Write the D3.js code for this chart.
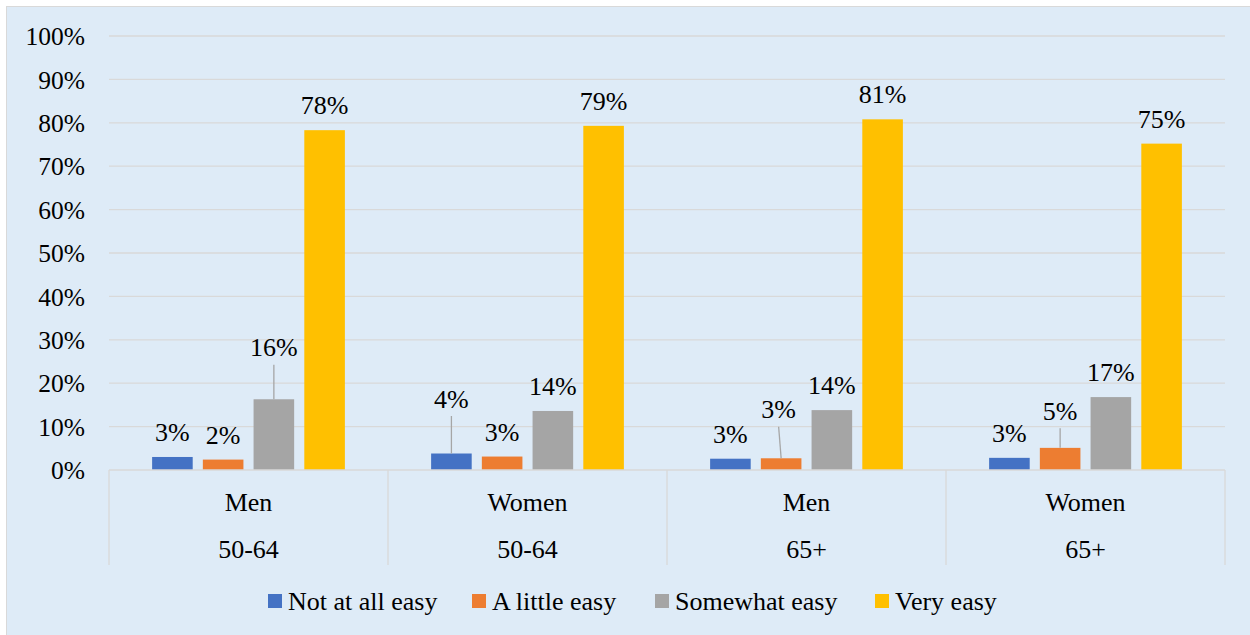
<!DOCTYPE html>
<html>
<head>
<meta charset="utf-8">
<script src="https://cdn.jsdelivr.net/npm/d3@7"></script>
<style>
  html, body { margin: 0; padding: 0; background: #ffffff; }
  svg { display: block; }
  svg text { font-family: "Liberation Serif", "Times New Roman", Times, "DejaVu Serif", serif !important; fill: #000; }
</style>
</head>
<body>
<svg id="chart" width="1250" height="635"></svg>
<script>
// Ease ratings by gender and age group
const genders = ["Men", "Women", "Men", "Women"];
const ageGroups = ["50-64", "50-64", "65+", "65+"];
const seriesNames = ["Not at all easy", "A little easy", "Somewhat easy", "Very easy"];
const seriesColors = ["#4472C4", "#ED7D31", "#A5A5A5", "#FFC000"];

// Share of respondents, one array per answer, in category order
const notAtAllEasy = [0.030, 0.038, 0.026, 0.028];
const aLittleEasy  = [0.024, 0.031, 0.027, 0.051];
const somewhatEasy = [0.163, 0.136, 0.138, 0.168];
const veryEasy     = [0.783, 0.793, 0.808, 0.752];

const yTicks = [0, 0.1, 0.2, 0.3, 0.4, 0.5, 0.6, 0.7, 0.8, 0.9, 1.0];

// Labels that were lifted above their bars and joined with a leader line:
// [category index, series index, extra lift in px, horizontal shift in px]
const liftedLabels = [
  [0, 2, 27, 0],
  [1, 0, 30, 0],
  [2, 1, 24, -2.5],
  [3, 1, 12, 0]
];

const seriesValues = [notAtAllEasy, aLittleEasy, somewhatEasy, veryEasy];
const categories = genders.map((g, i) => i);
const serif = "'Liberation Serif', 'Times New Roman', Times, 'DejaVu Serif', serif";

const svg = d3.select("#chart");
const W = 1250, H = 635;

// Chart area
svg.append("rect")
  .attr("x", 6.5).attr("y", 6.5)
  .attr("width", W).attr("height", H)
  .attr("fill", "#DEEBF7")
  .attr("stroke", "#D9D9D9").attr("stroke-width", 1);

const plot = { left: 109, right: 1225, top: 36, bottom: 470 };

const y = d3.scaleLinear().domain([0, 1]).range([plot.bottom, plot.top]);
const x0 = d3.scaleBand().domain(categories).range([plot.left, plot.right]).padding(0);
const x1 = d3.scaleBand().domain(d3.range(seriesNames.length))
  .range([0, x0.bandwidth()]).paddingInner(0.2).paddingOuter(0.85);

// Gridlines
svg.append("g").selectAll("line")
  .data(yTicks.filter(t => t > 0))
  .join("line")
  .attr("x1", plot.left).attr("x2", plot.right)
  .attr("y1", d => y(d)).attr("y2", d => y(d))
  .attr("stroke", "#D9D9D9").attr("stroke-width", 1.3);

// Value axis labels
const yAxis = d3.axisLeft(y).tickValues(yTicks).tickFormat(d3.format(".0%")).tickSize(0).tickPadding(24);
const yg = svg.append("g").attr("transform", `translate(${plot.left},0)`).call(yAxis);
yg.attr("font-family", serif).attr("font-size", 25.5);
yg.select(".domain").remove();
yg.selectAll("text")
  .style("font-family", serif)
  .style("font-size", "25.5px").attr("fill", "#000").attr("dy", "0.34em");

// Bars
const bars = [];
categories.forEach(c => {
  seriesValues.forEach((vals, s) => bars.push({ c, s, v: vals[c] }));
});

svg.append("g").selectAll("rect")
  .data(bars)
  .join("rect")
  .attr("x", d => x0(d.c) + x1(d.s))
  .attr("y", d => y(d.v))
  .attr("width", x1.bandwidth())
  .attr("height", d => y(0) - y(d.v))
  .attr("fill", d => seriesColors[d.s]);

// Category axis: baseline and separators
const axisG = svg.append("g").attr("font-family", serif);
axisG.append("line")
  .attr("x1", plot.left).attr("x2", plot.right)
  .attr("y1", plot.bottom).attr("y2", plot.bottom)
  .attr("stroke", "#D9D9D9").attr("stroke-width", 1.3);
const bounds = categories.map(c => x0(c)).concat([plot.right]);
axisG.selectAll("line.sep")
  .data(bounds)
  .join("line").attr("class", "sep")
  .attr("x1", d => d).attr("x2", d => d)
  .attr("y1", plot.bottom).attr("y2", 565)
  .attr("stroke", "#D9D9D9").attr("stroke-width", 1.3);

axisG.selectAll("text.gender")
  .data(categories)
  .join("text").attr("class", "gender")
  .attr("x", c => x0(c) + x0.bandwidth() / 2)
  .attr("y", 511)
  .attr("text-anchor", "middle")
  .style("font-family", serif)
  .style("font-size", "26px")
  .text(c => genders[c]);

axisG.selectAll("text.age")
  .data(categories)
  .join("text").attr("class", "age")
  .attr("x", c => x0(c) + x0.bandwidth() / 2)
  .attr("y", 558)
  .attr("text-anchor", "middle")
  .style("font-family", serif)
  .style("font-size", "26px")
  .text(c => ageGroups[c]);

// Data labels
const fmt = d3.format(".0%");
const labelGap = 16;
const labelData = bars.map(d => {
  const lift = liftedLabels.find(l => l[0] === d.c && l[1] === d.s);
  const cx = x0(d.c) + x1(d.s) + x1.bandwidth() / 2;
  return {
    ...d,
    cx,
    lx: cx + (lift ? lift[3] : 0),
    ly: y(d.v) - labelGap - (lift ? lift[2] : 0),
    leader: !!lift
  };
});

svg.append("g").selectAll("line")
  .data(labelData.filter(d => d.leader))
  .join("line")
  .attr("x1", d => d.lx).attr("y1", d => d.ly + 8.5)
  .attr("x2", d => d.cx).attr("y2", d => y(d.v))
  .attr("stroke", "#A6A6A6").attr("stroke-width", 1.3);

svg.append("g").selectAll("text")
  .data(labelData)
  .join("text")
  .attr("x", d => d.lx)
  .attr("y", d => d.ly)
  .attr("text-anchor", "middle")
  .style("font-family", serif)
  .style("font-size", "26px")
  .text(d => fmt(d.v));

// Legend
const legendX = [268, 472, 655, 875];
const legend = svg.append("g");
const items = legend.selectAll("g")
  .data(seriesNames)
  .join("g")
  .attr("transform", (d, i) => `translate(${legendX[i]},601)`);
items.append("rect")
  .attr("x", 0).attr("y", -7).attr("width", 14).attr("height", 14)
  .attr("fill", (d, i) => seriesColors[i]);
items.append("text")
  .attr("x", 20).attr("y", 9)
  .style("font-family", serif)
  .style("font-size", "26px")
  .text(d => d);
</script>
</body>
</html>
